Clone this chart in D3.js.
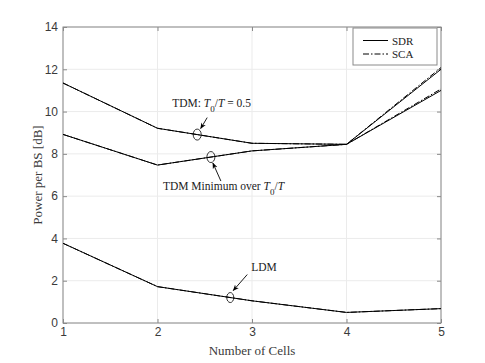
<!DOCTYPE html>
<html>
<head>
<meta charset="utf-8">
<script src="https://cdn.jsdelivr.net/npm/d3@7"></script>
<style>
    body { margin: 0; background: #fff; }
    svg { font-family: "Liberation Serif", "DejaVu Serif", serif; }
</style>
</head>
<body>
<svg></svg>
<script>
const width = 485, height = 363;
const margin = {top: 27, right: 44, bottom: 40, left: 63};

const cells = [1, 2, 3, 4, 5];
const xTicks = [1, 2, 3, 4, 5];
const yTicks = [0, 2, 4, 6, 8, 10, 12, 14];

// TDM with T0/T = 0.5
const tdmHalfSDR = [11.35, 9.21, 8.50, 8.45, 12.0];
const tdmHalfSCA = [11.35, 9.21, 8.50, 8.45, 12.08];
// TDM minimum over T0/T
const tdmMinSDR = [8.92, 7.47, 8.14, 8.45, 11.0];
const tdmMinSCA = [8.92, 7.47, 8.14, 8.45, 11.07];
// LDM
const ldmSDR = [3.77, 1.72, 1.05, 0.50, 0.68];
const ldmSCA = [3.77, 1.72, 1.05, 0.50, 0.68];

const legendItems = ['SDR', 'SCA'];

const axisColor = '#8a8a8a', textColor = '#3a3a3a', gridColor = '#ebebeb';
const dashDot = '6,2,1.5,2';

const svg = d3.select('svg').attr('width', width).attr('height', height);
const iw = width - margin.left - margin.right;
const ih = height - margin.top - margin.bottom;
const g = svg.append('g').attr('transform', `translate(${margin.left},${margin.top})`);

const x = d3.scaleLinear().domain([1, 5]).range([0, iw]);
const y = d3.scaleLinear().domain([0, 14]).range([ih, 0]);

// grid
g.selectAll('.gx').data(xTicks).enter().append('line')
    .attr('x1', d => x(d)).attr('x2', d => x(d)).attr('y1', 0).attr('y2', ih)
    .style('stroke', gridColor);
g.selectAll('.gy').data(yTicks).enter().append('line')
    .attr('x1', 0).attr('x2', iw).attr('y1', d => y(d)).attr('y2', d => y(d))
    .style('stroke', gridColor);

// axes
function styleAxis(sel) {
    sel.select('.domain').remove();
    sel.selectAll('line').style('stroke', axisColor);
    sel.selectAll('text').style('fill', textColor).style('font-size', '12px');
}
g.append('g').attr('transform', `translate(0,${ih})`)
    .call(d3.axisBottom(x).tickValues(xTicks).tickFormat(d3.format('d')).tickSize(-4).tickPadding(4))
    .call(styleAxis);
g.append('g')
    .call(d3.axisLeft(y).tickValues(yTicks).tickSize(-4).tickPadding(5))
    .call(styleAxis);
g.append('g')
    .call(d3.axisTop(x).tickValues(xTicks).tickSize(-4).tickFormat(''))
    .call(styleAxis);
g.append('g').attr('transform', `translate(${iw},0)`)
    .call(d3.axisRight(y).tickValues(yTicks).tickSize(-4).tickFormat(''))
    .call(styleAxis);
g.append('rect').attr('width', iw).attr('height', ih)
    .style('fill', 'none').style('stroke', axisColor).style('stroke-width', 1);

// curves
const line = d3.line().x((d, i) => x(cells[i])).y(d => y(d));
const series = [
    {v: tdmHalfSDR, dash: null}, {v: tdmHalfSCA, dash: dashDot},
    {v: tdmMinSDR, dash: null}, {v: tdmMinSCA, dash: dashDot},
    {v: ldmSDR, dash: null}, {v: ldmSCA, dash: dashDot}
];
g.selectAll('.curve').data(series).enter().append('path')
    .attr('d', d => line(d.v))
    .style('fill', 'none').style('stroke', '#000').style('stroke-width', 1)
    .style('stroke-dasharray', d => d.dash);

// annotations
svg.append('defs').append('marker')
    .attr('id', 'arr').attr('viewBox', '0 0 10 10').attr('refX', 9).attr('refY', 5)
    .attr('markerWidth', 7).attr('markerHeight', 7).attr('orient', 'auto')
    .append('path').attr('d', 'M0,1 L10,5 L0,9 L3,5 Z').style('fill', '#000');

function mark(xv, vals, ax, ay, tx, ty, rx, ry) {
    // point on a segment at cell value xv
    const cx = x(xv), cy = y(d3.scaleLinear().domain(cells).range(vals)(xv));
    g.append('ellipse').attr('cx', cx).attr('cy', cy).attr('rx', rx).attr('ry', ry)
        .style('fill', 'none').style('stroke', '#000').style('stroke-width', 0.8);
    g.append('line')
        .attr('x1', cx + tx).attr('y1', cy + ty).attr('x2', cx + ax).attr('y2', cy + ay)
        .style('stroke', '#000').style('stroke-width', 0.9).attr('marker-end', 'url(#arr)');
    return {cx, cy};
}

function mathText(sel, parts) {
    parts.forEach(p => {
        const t = sel.append('tspan').text(p.t);
        if (p.i) t.style('font-style', 'italic');
        if (p.sub) t.attr('baseline-shift', 'sub').style('font-size', '9px');
    });
}

const a1 = mark(2.42, tdmHalfSCA, 3.5, -6, 10, -17, 4, 5.5);
const t1 = g.append('text').attr('x', a1.cx - 25).attr('y', a1.cy - 28)
    .style('font-size', '11.5px').style('fill', '#222');
mathText(t1, [{t: 'TDM: '}, {t: 'T', i: 1}, {t: '0', sub: 1}, {t: '/'}, {t: 'T', i: 1}, {t: ' = 0.5'}]);

const a2 = mark(2.565, tdmMinSCA, 2, 6, 10, 24, 4, 5.5);
const t2 = g.append('text').attr('x', a2.cx - 48).attr('y', a2.cy + 33)
    .style('font-size', '11.5px').style('fill', '#222');
mathText(t2, [{t: 'TDM Minimum over '}, {t: 'T', i: 1}, {t: '0', sub: 1}, {t: '/'}, {t: 'T', i: 1}]);

const a3 = mark(2.77, ldmSCA, 3, -7, 17, -23, 3.5, 5);
g.append('text').attr('x', a3.cx + 21).attr('y', a3.cy - 27)
    .style('font-size', '11.5px').style('fill', '#222').text('LDM');

// axis titles
svg.append('text').attr('x', margin.left + iw / 2).attr('y', height - 8)
    .attr('text-anchor', 'middle').style('font-size', '13px').style('fill', textColor)
    .text('Number of Cells');
svg.append('text').attr('transform', `translate(42,${margin.top + ih / 2}) rotate(-90)`)
    .attr('text-anchor', 'middle').style('font-size', '13px').style('fill', textColor)
    .text('Power per BS [dB]');

// legend
const lg = svg.append('g').attr('transform', 'translate(353,28)');
lg.append('rect').attr('width', 84).attr('height', 37)
    .style('fill', '#fff').style('stroke', axisColor);
legendItems.forEach((name, i) => {
    lg.append('line').attr('x1', 10).attr('x2', 35).attr('y1', 12.5 + i * 13.5).attr('y2', 12.5 + i * 13.5)
        .style('stroke', '#000').style('stroke-width', 1)
        .style('stroke-dasharray', i ? dashDot : null);
    lg.append('text').attr('x', 39).attr('y', 16.5 + i * 13.5)
        .style('font-size', '11px').style('fill', '#222').text(name);
});
</script>
</body>
</html>
